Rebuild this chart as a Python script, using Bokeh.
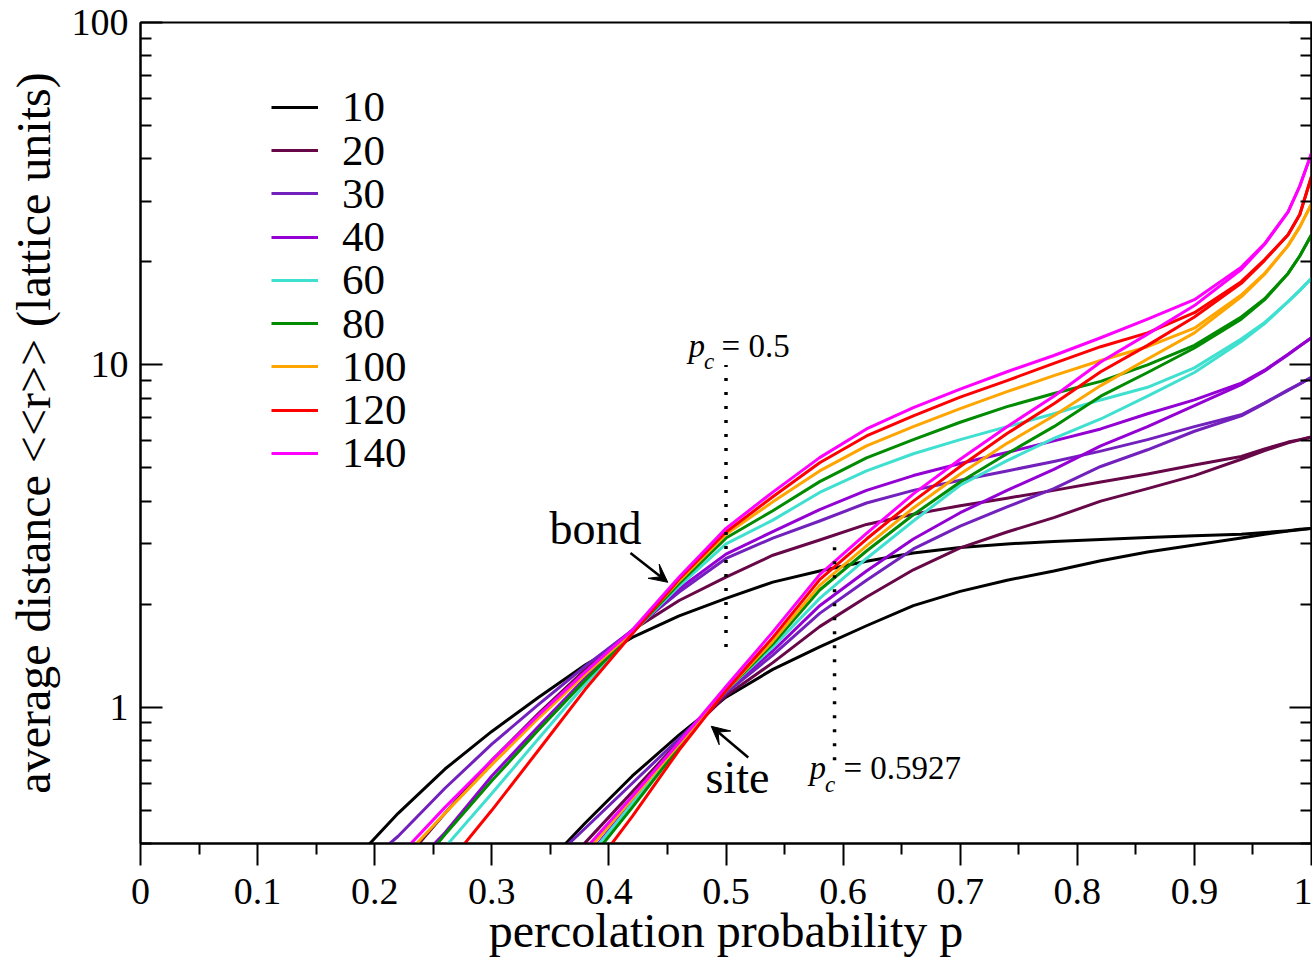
from bokeh.plotting import figure
from bokeh.models import (Range1d, FixedTicker, LogAxis, Legend, LegendItem,
                          Arrow, VeeHead, PrintfTickFormatter)
from bokeh.core.properties import value
from bokeh.embed import file_html
from bokeh.resources import INLINE

# ---------------- data ----------------
sizes = [10, 20, 30, 40, 60, 80, 100, 120, 140]
colors = ["#000000", "#670748", "#7221BC", "#9400D3", "#40E0D0",
          "#008B00", "#FFA500", "#FF0000", "#FF00FF"]

p_bond = [0.18, 0.22, 0.26, 0.30, 0.34, 0.38, 0.42, 0.46, 0.50, 0.54, 0.58, 0.62,
          0.66, 0.70, 0.74, 0.78, 0.82, 0.86, 0.90, 0.94, 0.96, 0.98, 0.99, 1.00]
bond_10 = [0.35, 0.49, 0.66, 0.85, 1.07, 1.33, 1.60, 1.85, 2.08, 2.32, 2.50, 2.67,
           2.82, 2.93, 3.00, 3.05, 3.09, 3.13, 3.17, 3.20, 3.24, 3.28, 3.31, 3.33]
bond_20 = [0.25, 0.34, 0.49, 0.70, 0.96, 1.29, 1.68, 2.05, 2.40, 2.78, 3.08, 3.42,
           3.66, 3.88, 4.08, 4.30, 4.55, 4.80, 5.10, 5.40, 5.68, 5.95, 6.05, 6.16]
bond_30 = [0.32, 0.42, 0.58, 0.78, 1.02, 1.32, 1.68, 2.17, 2.72, 3.12, 3.50, 3.95,
           4.30, 4.60, 4.90, 5.22, 5.60, 6.05, 6.60, 7.15, 7.75, 8.45, 8.80, 9.20]
bond_40 = [0.20, 0.31, 0.43, 0.63, 0.88, 1.22, 1.66, 2.22, 2.80, 3.26, 3.78, 4.30,
           4.75, 5.15, 5.55, 6.00, 6.50, 7.20, 7.90, 8.85, 9.65, 10.75, 11.35, 12.0]
bond_60 = [0.15, 0.23, 0.39, 0.56, 0.81, 1.17, 1.65, 2.26, 3.00, 3.52, 4.24, 4.90,
           5.50, 6.05, 6.60, 7.20, 7.90, 8.60, 9.80, 11.9, 13.3, 15.3, 16.5, 17.9]
bond_80 = [0.19, 0.29, 0.425, 0.61, 0.86, 1.20, 1.65, 2.30, 3.12, 3.75, 4.56, 5.35,
           6.05, 6.80, 7.55, 8.25, 8.95, 10.0, 11.4, 13.8, 15.6, 18.5, 20.8, 24.0]
bond_100 = [0.24, 0.35, 0.49, 0.68, 0.93, 1.25, 1.66, 2.34, 3.20, 3.98, 4.90, 5.80,
            6.60, 7.45, 8.35, 9.30, 10.3, 11.3, 12.8, 16.0, 18.5, 22.3, 25.3, 29.5]
bond_120 = [0.13, 0.22, 0.34, 0.50, 0.75, 1.13, 1.64, 2.37, 3.25, 4.12, 5.18, 6.20,
            7.10, 8.05, 9.00, 10.1, 11.3, 12.4, 14.2, 17.5, 20.3, 24.0, 27.5, 35.5]
bond_140 = [0.25, 0.365, 0.51, 0.70, 0.95, 1.27, 1.68, 2.40, 3.33, 4.25, 5.36, 6.50,
            7.50, 8.50, 9.55, 10.65, 12.0, 13.6, 15.5, 19.3, 22.6, 28.0, 33.3, 41.5]

p_site = [0.34, 0.38, 0.42, 0.46, 0.50, 0.54, 0.58, 0.62, 0.66, 0.70, 0.74, 0.78,
          0.82, 0.86, 0.90, 0.94, 0.96, 0.98, 0.99, 1.00]
site_10 = [0.33, 0.46, 0.63, 0.83, 1.07, 1.29, 1.50, 1.73, 1.98, 2.18, 2.35, 2.50,
           2.68, 2.84, 2.98, 3.12, 3.20, 3.27, 3.30, 3.33]
site_20 = [0.29, 0.403, 0.566, 0.795, 1.08, 1.35, 1.72, 2.10, 2.52, 2.92, 3.25, 3.58,
           4.00, 4.35, 4.75, 5.30, 5.62, 5.92, 6.04, 6.16]
site_30 = [0.33, 0.444, 0.60, 0.81, 1.10, 1.42, 1.88, 2.35, 2.90, 3.38, 3.85, 4.35,
           5.05, 5.65, 6.40, 7.10, 7.72, 8.42, 8.80, 9.20]
site_40 = [0.25, 0.36, 0.53, 0.78, 1.12, 1.46, 1.98, 2.50, 3.10, 3.70, 4.30, 4.95,
           5.80, 6.60, 7.60, 8.75, 9.60, 10.7, 11.35, 12.0]
site_60 = [0.24, 0.357, 0.524, 0.77, 1.12, 1.50, 2.08, 2.72, 3.50, 4.45, 5.25, 6.10,
           6.95, 8.10, 9.50, 11.7, 13.2, 15.3, 16.5, 17.9]
site_80 = [0.23, 0.345, 0.51, 0.765, 1.12, 1.53, 2.20, 2.86, 3.65, 4.55, 5.50, 6.60,
           8.10, 9.50, 11.2, 13.6, 15.5, 18.5, 20.8, 24.0]
site_100 = [0.25, 0.375, 0.54, 0.78, 1.12, 1.56, 2.27, 2.96, 3.82, 4.80, 5.90, 7.10,
            8.70, 10.4, 12.4, 15.8, 18.4, 22.3, 25.3, 29.5]
site_120 = [0.21, 0.316, 0.48, 0.75, 1.12, 1.60, 2.36, 3.10, 4.00, 5.05, 6.30, 7.70,
            9.55, 11.4, 13.8, 17.3, 20.2, 24.0, 27.5, 35.5]
site_140 = [0.27, 0.386, 0.55, 0.79, 1.15, 1.66, 2.44, 3.22, 4.20, 5.30, 6.60, 8.10,
            10.2, 12.3, 14.9, 19.0, 22.5, 28.0, 33.3, 41.5]

bond_series = [bond_10, bond_20, bond_30, bond_40, bond_60, bond_80, bond_100, bond_120, bond_140]
site_series = [site_10, site_20, site_30, site_40, site_60, site_80, site_100, site_120, site_140]

x_ticks = [0.0, 0.1, 0.2, 0.3, 0.4, 0.5, 0.6, 0.7, 0.8, 0.9, 1.0]
x_tick_labels = ["0", "0.1", "0.2", "0.3", "0.4", "0.5", "0.6", "0.7", "0.8", "0.9", "1"]
x_minor_ticks = [0.05, 0.15, 0.25, 0.35, 0.45, 0.55, 0.65, 0.75, 0.85, 0.95]
y_ticks = [1, 10, 100]
y_tick_labels = ["1", "10", "100"]
y_minor_ticks = [0.4, 0.5, 0.6, 0.7, 0.8, 0.9, 2, 3, 4, 5, 6, 7, 8, 9,
                 20, 30, 40, 50, 60, 70, 80, 90]

pc_bond = 0.5
pc_bond_span = [1.5, 10.0]
pc_site = 0.5927
pc_site_span = [0.70, 3.0]

FONT = "Liberation Serif"

# ---------------- figure ----------------
p = figure(width=1312, height=961, x_range=Range1d(0, 1), y_range=Range1d(0.4, 100),
           y_axis_type="log", output_backend="svg", toolbar_location=None,
           min_border_left=140, min_border_right=1, min_border_top=22, min_border_bottom=118)
p.xgrid.visible = False
p.ygrid.visible = False
p.outline_line_color = "black"
p.outline_line_width = 2
p.background_fill_color = "white"
p.border_fill_color = "white"

xa = p.xaxis[0]
xa.ticker = FixedTicker(ticks=x_ticks, minor_ticks=x_minor_ticks)
xa.formatter = PrintfTickFormatter(format="%g")
xa.major_label_overrides = {t: l for t, l in zip(x_ticks, x_tick_labels)}
xa.major_tick_in = 0
xa.major_tick_out = 22
xa.minor_tick_in = 0
xa.minor_tick_out = 11
xa.major_label_standoff = 13
xa.axis_label = "percolation probability p"
xa.axis_label_standoff = -3

ya = p.yaxis[0]
ya.ticker = FixedTicker(ticks=y_ticks, minor_ticks=y_minor_ticks)
ya.formatter = PrintfTickFormatter(format="%g")
ya.major_label_overrides = {t: l for t, l in zip(y_ticks, y_tick_labels)}
ya.major_tick_in = 22
ya.major_tick_out = 0
ya.minor_tick_in = 11
ya.minor_tick_out = 0
ya.major_label_standoff = 12
ya.axis_label = "average distance <<r>> (lattice units)"
ya.axis_label_standoff = 9

ra = LogAxis(ticker=FixedTicker(ticks=y_ticks, minor_ticks=y_minor_ticks),
             major_tick_in=22, major_tick_out=0, minor_tick_in=11, minor_tick_out=0,
             major_label_text_font_size="1px", major_label_text_color=None,
             major_label_standoff=0)
p.add_layout(ra, "right")

for ax in [xa, ya, ra]:
    ax.axis_line_width = 2
    ax.axis_line_color = "black"
    ax.major_tick_line_width = 2
    ax.minor_tick_line_width = 2
    ax.major_tick_line_color = "black"
    ax.minor_tick_line_color = "black"
for ax in [xa, ya]:
    ax.major_label_text_font = FONT
    ax.major_label_text_font_size = "38px"
    ax.major_label_text_color = "black"
    ax.axis_label_text_font = FONT
    ax.axis_label_text_font_size = "48px"
    ax.axis_label_text_font_style = "normal"
    ax.axis_label_text_color = "black"

# ---------------- curves ----------------
legend_items = []
for L, c, yb in zip(sizes, colors, bond_series):
    r = p.line(p_bond, yb, line_color=c, line_width=3, line_join="round")
    legend_items.append(LegendItem(label=str(L), renderers=[r]))
for L, c, ys in zip(sizes, colors, site_series):
    p.line(p_site, ys, line_color=c, line_width=3, line_join="round")

# critical points (dotted)
p.line([pc_bond, pc_bond], pc_bond_span, line_color="black", line_width=3.5, line_dash="3 11")
p.line([pc_site, pc_site], pc_site_span, line_color="black", line_width=3.5, line_dash="3 11")

# annotations (anchored at the vertical middle of the text)
MID = value("middle")
LEFT = value("left")
p.text(x=[0.3493, 0.4825], y=[3.336, 0.6255], text=["bond", "site"],
       text_font=value(FONT), text_font_size=value("46px"),
       text_baseline=MID, text_align=LEFT, text_color="black")
p.text(x=[0.4679, 0.5713], y=[11.39, 0.6632], text=["p", "p"],
       text_font=value(FONT), text_font_size=value("33px"), text_font_style="italic",
       text_baseline=MID, text_align=LEFT, text_color="black")
p.text(x=[0.4813, 0.5845], y=[10.21, 0.5943], text=["c", "c"],
       text_font=value(FONT), text_font_size=value("23px"), text_font_style="italic",
       text_baseline=MID, text_align=LEFT, text_color="black")
p.text(x=[0.4962, 0.6003], y=[11.39, 0.6632], text=["= 0.5", "= 0.5927"],
       text_font=value(FONT), text_font_size=value("33px"),
       text_baseline=MID, text_align=LEFT, text_color="black")

p.add_layout(Arrow(end=VeeHead(size=18, fill_color="black", line_color="black", line_width=1),
                   x_start=0.4184, y_start=2.822, x_end=0.4503, y_end=2.317,
                   line_color="black", line_width=2.5))
p.add_layout(Arrow(end=VeeHead(size=18, fill_color="black", line_color="black", line_width=1),
                   x_start=0.5190, y_start=0.713, x_end=0.4874, y_end=0.880,
                   line_color="black", line_width=2.5))

# legend: one entry per row, rows spaced like the original (tighter than Bokeh allows)
row0_center = 108.3   # px from top of canvas
row_pitch = 43.25
for i, item in enumerate(legend_items):
    center = row0_center + row_pitch * i
    lg = Legend(items=[item], location=(131, 820 - center), orientation="vertical",
                glyph_width=47, glyph_height=20, label_standoff=24, label_height=20,
                label_text_font=FONT, label_text_font_size="43px", label_text_color="black",
                spacing=0, padding=0, margin=0, border_line_color=None,
                background_fill_alpha=0)
    p.add_layout(lg)

open("out.html", "w").write(file_html(p, INLINE))
